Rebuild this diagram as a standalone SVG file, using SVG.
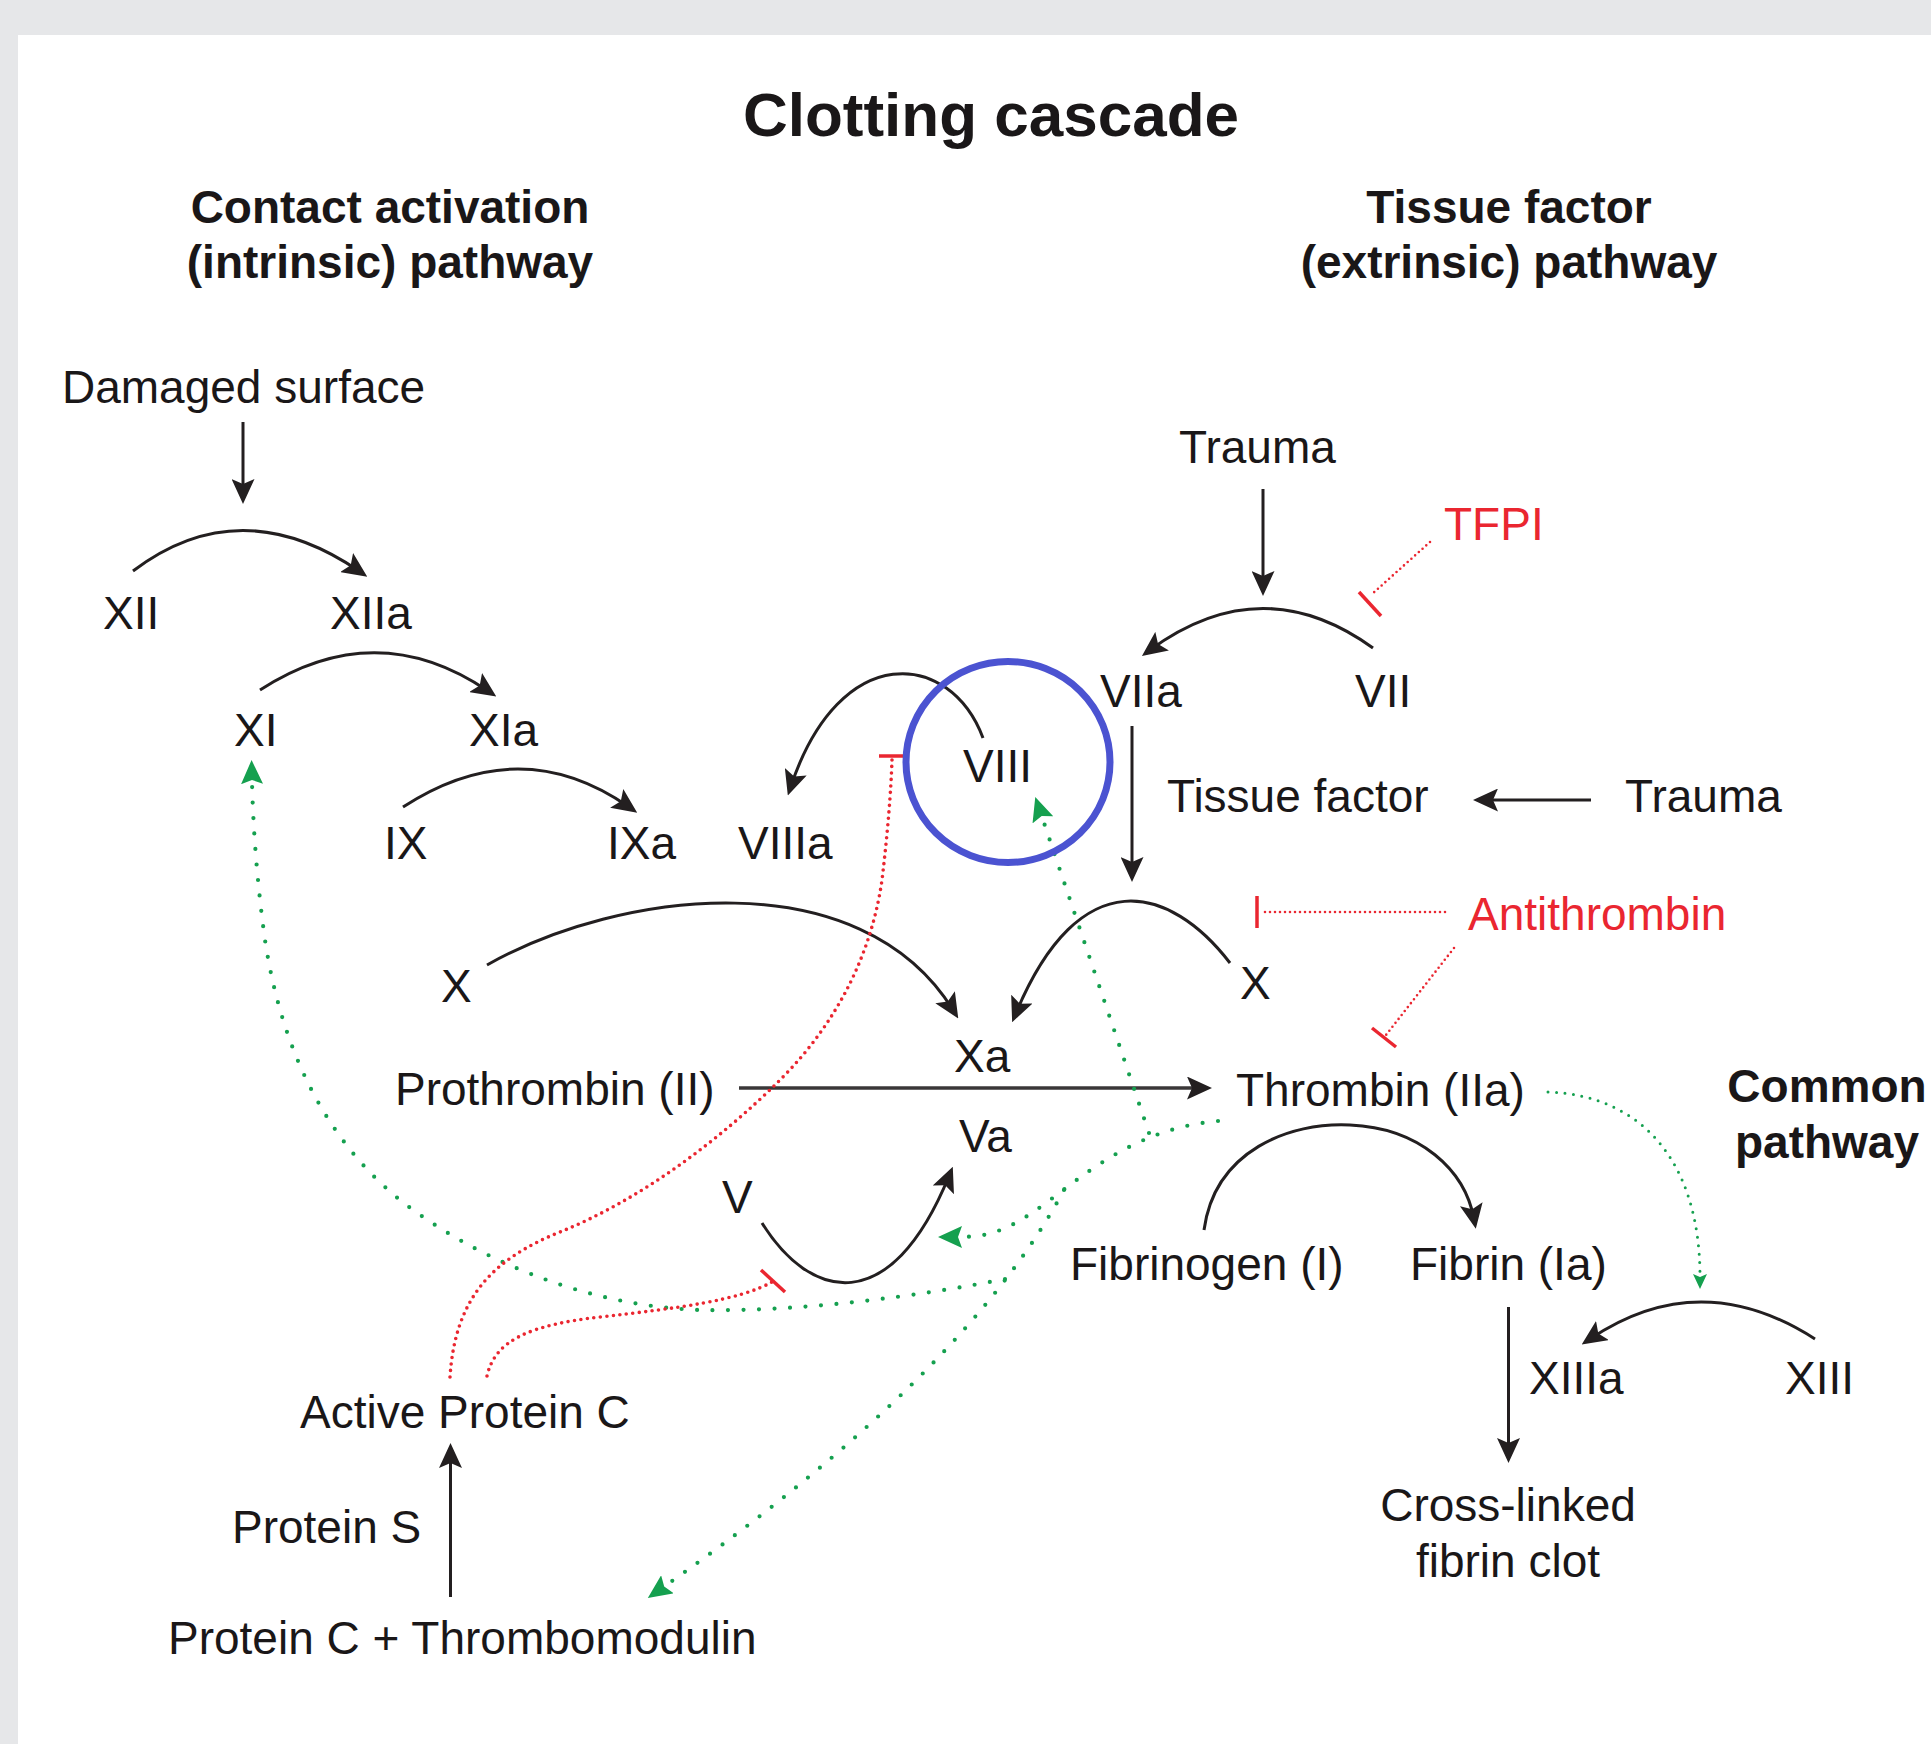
<svg xmlns="http://www.w3.org/2000/svg" width="1931" height="1744" viewBox="0 0 1931 1744">
<style>
text{font-family:"Liberation Sans",Arial,Helvetica,sans-serif;font-size:46px;fill:#1a1718}
.b{font-weight:bold}
.t{font-weight:bold;font-size:62px}
.r{fill:#ea2630}
.mid{text-anchor:middle}
.k{fill:none;stroke:#231f20;stroke-width:3}
.g{fill:none;stroke:#15a04f;stroke-width:4.2;stroke-linecap:round;stroke-dasharray:0 15.5}
.gs{fill:none;stroke:#15a04f;stroke-width:3;stroke-linecap:round;stroke-dasharray:0 8.5}
.rd{fill:none;stroke:#ea2630;stroke-width:3.6;stroke-linecap:round;stroke-dasharray:0 6.5}
.rf{fill:none;stroke:#ea2630;stroke-width:2.6;stroke-linecap:round;stroke-dasharray:0 5}
.bar{fill:none;stroke:#ea2630;stroke-width:3.5}
</style>
<defs>
<marker id="ah" markerUnits="userSpaceOnUse" viewBox="0 0 25 23" markerWidth="25" markerHeight="23" refX="15" refY="11.5" orient="auto"><path d="M0,0 L25,11.5 L0,23 L5,11.5 z" fill="#231f20" stroke="none"/></marker>
<marker id="ag" markerUnits="userSpaceOnUse" viewBox="0 0 24 22" markerWidth="24" markerHeight="22" refX="3" refY="11" orient="auto"><path d="M0,0 L24,11 L0,22 L4,11 z" fill="#15a04f" stroke="none"/></marker>
<marker id="ags" markerUnits="userSpaceOnUse" viewBox="0 0 15 14" markerWidth="15" markerHeight="14" refX="3" refY="7" orient="auto"><path d="M0,0 L15,7 L0,14 L3,7 z" fill="#15a04f" stroke="none"/></marker>
</defs>
<rect x="0" y="0" width="1931" height="1744" fill="#e6e7e9"/>
<rect x="18" y="35" width="1913" height="1709" fill="#ffffff"/>

<g id="connectors">
<path class="k" d="M243,422 L243,494" marker-end="url(#ah)"/>
<path class="k" d="M133,571 Q240,490 359,571" marker-end="url(#ah)"/>
<path class="k" d="M260,690 Q376,615 488,691" marker-end="url(#ah)"/>
<path class="k" d="M403,807 Q520,731 629,807" marker-end="url(#ah)"/>
<path class="k" d="M487,965 C620,890 860,860 953,1010" marker-end="url(#ah)"/>
<path class="k" d="M1230,963 C1170,885 1080,860 1016,1013" marker-end="url(#ah)"/>
<path class="k" d="M762,1223 C810,1300 890,1320 949,1176" marker-end="url(#ah)"/>
<path class="k" d="M739,1088 L1202,1088" style="stroke-width:3.5;stroke:#3a3738" marker-end="url(#ah)"/>
<path class="k" d="M1373,648 Q1262,568 1150,650" marker-end="url(#ah)"/>
<path class="k" d="M1263,489 L1263,586" marker-end="url(#ah)"/>
<path class="k" d="M983,738 C950,650 840,640 791,786" marker-end="url(#ah)"/>
<path class="k" d="M1132,726 L1132,872" marker-end="url(#ah)"/>
<path class="k" d="M1591,800 L1483,800" marker-end="url(#ah)"/>
<path class="k" d="M1204,1230 C1215,1150 1290,1122 1350,1125 C1420,1128 1465,1170 1474,1219" marker-end="url(#ah)"/>
<path class="k" d="M1508.5,1307 L1508.5,1453" marker-end="url(#ah)"/>
<path class="k" d="M1815,1339 Q1700,1265 1590,1339" marker-end="url(#ah)"/>
<path class="k" d="M450.5,1597 L450.5,1453" marker-end="url(#ah)"/>

<path class="g" d="M1218,1121 C1140,1128 1090,1170 1050,1200 S990,1237 959,1237" marker-end="url(#ag)"/>
<path class="g" d="M1149,1133 L1042,817" marker-end="url(#ag)"/>
<path class="g" d="M1064,1190 Q965,1375 665,1586" marker-end="url(#ag)"/>
<path class="g" d="M1005,1279 C920,1296 800,1312 700,1310 C580,1306 470,1255 400,1200 C320,1135 280,1040 265,940 C258,890 253,830 252,781" marker-end="url(#ag)"/>
<path class="gs" d="M1548,1092 C1640,1095 1700,1160 1700,1277" marker-end="url(#ags)"/>

<path class="rd" d="M450,1377 C455,1300 490,1260 560,1232 C640,1200 720,1140 780,1080 C840,1020 872,950 882,880 C888,830 891,790 892,760"/>
<path class="bar" d="M879,756 L908,756"/>
<path class="rd" d="M487,1376 C495,1340 530,1325 600,1317 C680,1308 740,1300 772,1282"/>
<path class="bar" d="M761,1270 L785,1292"/>
<path class="rf" d="M1445,912 L1261,912"/>
<path class="bar" d="M1257,896 L1257,928"/>
<path class="rf" d="M1454,948 L1386,1035"/>
<path class="bar" d="M1372,1028 L1396,1047"/>
<path class="rf" d="M1430,542 L1371,595"/>
<path class="bar" d="M1359,592 L1381,616"/>
</g>

<g id="highlight"><ellipse cx="1008" cy="762" rx="102" ry="100.5" fill="none" stroke="#4b53d1" stroke-width="7"/></g>

<g id="title"><text class="t mid" x="991" y="136">Clotting cascade</text></g>
<g id="hdr-intrinsic"><text class="b mid" x="390" y="223">Contact activation</text><text class="b mid" x="390" y="278">(intrinsic) pathway</text></g>
<g id="hdr-extrinsic"><text class="b mid" x="1509" y="223">Tissue factor</text><text class="b mid" x="1509" y="278">(extrinsic) pathway</text></g>
<g id="hdr-common"><text class="b mid" x="1827" y="1102">Common</text><text class="b mid" x="1827" y="1158">pathway</text></g>

<g id="n-damaged"><text x="62" y="403">Damaged surface</text></g>
<g id="n-xii"><text x="103" y="629">XII</text></g>
<g id="n-xiia"><text x="330" y="629">XIIa</text></g>
<g id="n-xi"><text x="234" y="746">XI</text></g>
<g id="n-xia"><text x="469" y="746">XIa</text></g>
<g id="n-ix"><text x="384" y="859">IX</text></g>
<g id="n-ixa"><text x="607" y="859">IXa</text></g>
<g id="n-viiia"><text x="738" y="859">VIIIa</text></g>
<g id="n-viii"><text x="963" y="782">VIII</text></g>
<g id="n-trauma1"><text x="1179" y="463">Trauma</text></g>
<g id="n-tfpi"><text class="r" x="1444" y="540">TFPI</text></g>
<g id="n-viia"><text x="1100" y="707">VIIa</text></g>
<g id="n-vii"><text x="1355" y="707">VII</text></g>
<g id="n-tf"><text x="1167" y="812">Tissue factor</text></g>
<g id="n-trauma2"><text x="1625" y="812">Trauma</text></g>
<g id="n-antithrombin"><text class="r" x="1468" y="930">Antithrombin</text></g>
<g id="n-x1"><text x="441" y="1002">X</text></g>
<g id="n-x2"><text x="1240" y="999">X</text></g>
<g id="n-xa"><text x="954" y="1072">Xa</text></g>
<g id="n-prothrombin"><text x="395" y="1105">Prothrombin (II)</text></g>
<g id="n-thrombin"><text x="1236" y="1106">Thrombin (IIa)</text></g>
<g id="n-va"><text x="959" y="1152">Va</text></g>
<g id="n-v"><text x="722" y="1213">V</text></g>
<g id="n-fibrinogen"><text x="1070" y="1280">Fibrinogen (I)</text></g>
<g id="n-fibrin"><text x="1410" y="1280">Fibrin (Ia)</text></g>
<g id="n-xiiia"><text x="1529" y="1394">XIIIa</text></g>
<g id="n-xiii"><text x="1785" y="1394">XIII</text></g>
<g id="n-clot"><text class="mid" x="1508" y="1521">Cross-linked</text><text class="mid" x="1508" y="1577">fibrin clot</text></g>
<g id="n-apc"><text x="300" y="1428">Active Protein C</text></g>
<g id="n-proteins"><text x="232" y="1543">Protein S</text></g>
<g id="n-pctm"><text x="168" y="1654">Protein C + Thrombomodulin</text></g>
</svg>
